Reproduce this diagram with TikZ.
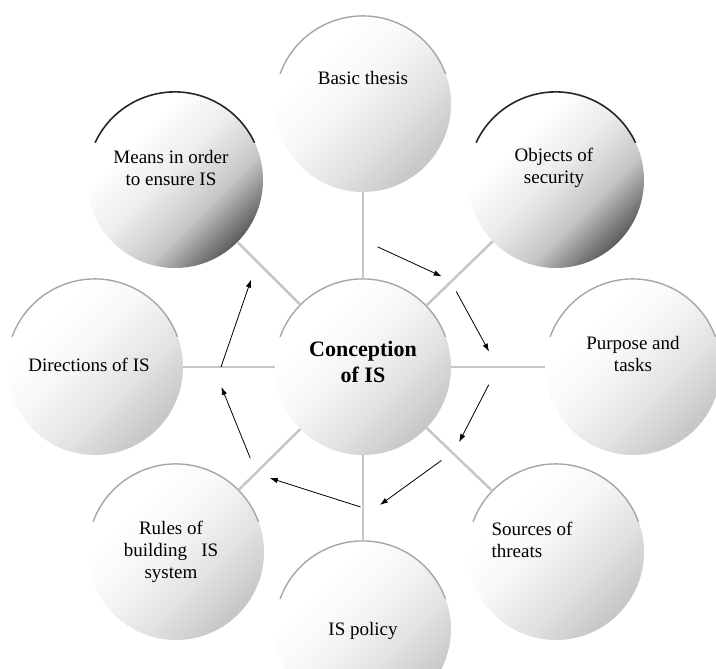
\documentclass[tikz,border=0pt]{standalone}
\usepackage{fontspec}
\setmainfont{Liberation Serif}
\usetikzlibrary{arrows.meta}
\pgfdeclareverticalshading{lightball}{100bp}{color(0bp)=(gray!50); color(25bp)=(gray!45);
   color(40bp)=(gray!22); color(55bp)=(gray!6); color(68bp)=(white); color(100bp)=(white)}
\pgfdeclareverticalshading{darkball}{100bp}{color(0bp)=(black!68); color(25bp)=(black!64);
   color(38bp)=(gray!45); color(52bp)=(gray!15); color(66bp)=(white); color(100bp)=(white)}
\tikzset{
    bubble/.style={
    circle,minimum size=176pt,inner sep=0pt,
    shade,shading=lightball,shading angle=45
    },
    darkbubble/.style={
    circle,minimum size=176pt,inner sep=0pt,
    shade,shading=darkball,shading angle=45
    },
    txt/.style={align=center,font=\fontsize{19}{22}\selectfont},
    bigtxt/.style={align=center,font=\fontsize{22}{26}\selectfont\bfseries},
    rim/.style={draw=gray!70,line width=1.4pt},
    darkrim/.style={draw=black!85,line width=1.6pt},
    spoke/.style={draw=gray!45,line width=2.5pt},
    flow/.style={->,line width=0.8pt},
}

\begin{document}
\begin{tikzpicture}[x=1pt,y=1pt,>={Latex[length=8pt,width=5.5pt]}]
   \useasboundingbox (-363,-302) rectangle (353,367);
   \node[bubble] (conc) at (0,0) {};
   \node[bigtxt] (conctxt) at (0,5) {Conception\\of IS};
   \node[bubble,label={[txt,yshift=26pt]center:Basic thesis}] (basic) at (0,263) {};
   \node[darkbubble,label={[txt,xshift=-2pt,yshift=12pt]center:Objects of\\security}] (objects) at (193,187) {};
   \node[bubble,label={[txt,yshift=13pt]center:Purpose and\\tasks}] (purpose) at (270,0) {};
   \node[bubble,label={[txt,align=left,xshift=-24pt,yshift=12pt]center:Sources of\\threats}] (sources) at (193,-185) {};
   \node[bubble,label={[txt,yshift=-2pt]center:IS policy}] (policy) at (0,-262) {};
   \node[bubble,label={[txt,xshift=-5pt]center:Rules of\\building\ \ \ IS\\system}] (rules) at (-187,-185) {};
   \node[bubble,label={[txt,xshift=-6pt,yshift=2pt]center:Directions of IS}] (directions) at (-268,0) {};
   \node[darkbubble,label={[txt,xshift=-4pt,yshift=12pt]center:Means in order\\to ensure IS}] (means) at (-188,187) {};

   % rims on top of the bubbles
   \foreach \n in {conc,basic,purpose,sources,policy,rules,directions}
      \draw[rim] (\n.160) arc[start angle=160,end angle=20,radius=88pt];
   \foreach \n in {objects,means}
      \draw[darkrim] (\n.155) arc[start angle=155,end angle=25,radius=88pt];

   \path[spoke]
             (conc) edge (basic)
                    edge (objects)
                    edge (purpose)
                    edge (sources)
                    edge (policy)
                    edge (rules)
                    edge (directions)
                    edge (means);

   % ring of arrows round the centre
   \foreach \a/\r/\b/\s [count=\i] in {83/121/49/120, 39/120/7/127, -8/127/-38/122,
            -50/122/-83/139, -91/140/-130/145, -141/145/-172/143, 180/142/142/142}{
      \coordinate (from\i) at (\a:\r);
      \coordinate (to\i) at (\b:\s);
      \draw[flow] (from\i) -- (to\i);
   }
\end{tikzpicture}
\end{document}
